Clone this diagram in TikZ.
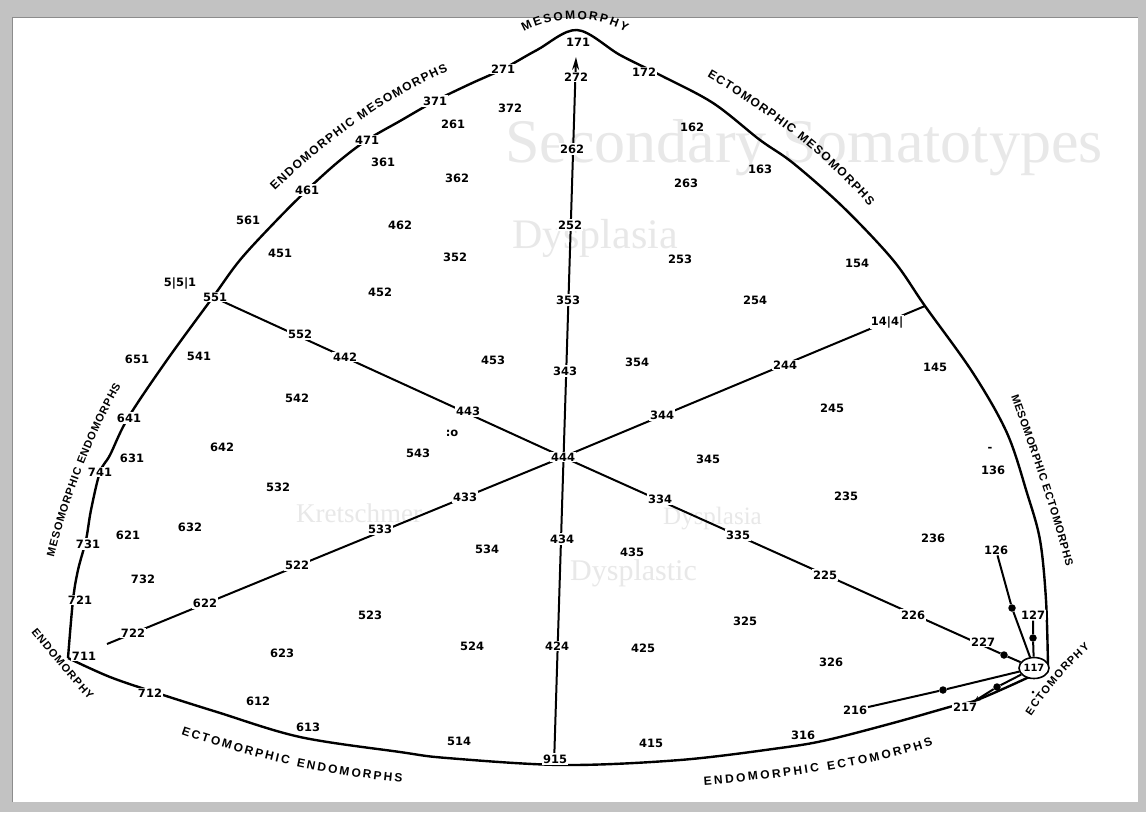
\documentclass[tikz,border=0pt]{standalone}
\usepackage{fontspec}
\setmainfont{DejaVu Sans}
\newfontfamily\numfont{DejaVu Sans}
\newfontfamily\capsfont{Liberation Sans}
\newfontfamily\bgserif{Liberation Serif}
\usetikzlibrary{decorations.text,arrows.meta,shapes.geometric}
\pgfdeclarelayer{back}
\pgfdeclarelayer{lines}
\pgfsetlayers{back,lines,main}
\newcommand\capfnt{\capsfont\bfseries\fontsize{12}{12}\selectfont}
\newcommand\capfntb{\capsfont\bfseries\fontsize{11}{11}\selectfont}
\tikzset{
  lab/.style={font=\numfont\bfseries\fontsize{11.5}{12}\selectfont, inner sep=0.8pt},
  onl/.style={lab, fill=white, inner sep=1.2pt},
  outline/.style={line width=2.4pt, line join=round},
  spoke/.style={line width=2pt},
  dotn/.style={circle, fill=black, inner sep=0pt, minimum size=7.5pt},
  bgt/.style={text=black!9, inner sep=0pt},
  curvlab/.style={decorate, decoration={text along path, text={|\capfnt|#1}, text align={fit to path}}},
  curvlabs/.style={decorate, decoration={text along path, text={|\capfntb|#1}, text align={fit to path}}}
}
\begin{document}
\begin{tikzpicture}[x=1pt,y=-1pt]
\useasboundingbox (0,0) rectangle (1146,812);
\begin{pgfonlayer}{back}
\fill[black!24] (0,0) rectangle (1146,812);
\fill[white] (12,17) rectangle (1138,802);
\draw[black!45, line width=1pt] (12,802) -- (12,17) -- (1138,17);
\node[bgt, font=\bgserif\fontsize{62}{62}\selectfont, anchor=base west] (bgA) at (505,162) {Secondary Somatotypes};
\node[bgt, font=\bgserif\fontsize{42}{42}\selectfont, anchor=base west] (bgB) at (512,248) {Dysplasia};
\node[bgt, font=\bgserif\fontsize{27}{27}\selectfont, anchor=base west] (bgC) at (296,522) {Kretschmer};
\node[bgt, font=\bgserif\fontsize{25}{25}\selectfont, anchor=base west] (bgD) at (663,524) {Dysplasia};
\node[bgt, font=\bgserif\fontsize{30}{30}\selectfont, anchor=base west] (bgE) at (570,580) {Dysplastic};
\end{pgfonlayer}

% outline of the chart
\begin{pgfonlayer}{lines}
\draw[outline] plot[smooth, tension=0.55] coordinates {(68,658) (73,600) (78,570) (86,540) (91,510) (100,472) (110,455) (128,418) (167,360) (213,297) (240,260) (275,222) (307,190) (338,162) (367,140) (400,121) (435,101) (470,84) (503,69) (537,50) (577,30) (620,55) (660,75) (713,103) (760,140) (793,163) (843,207) (893,260) (925,306) (973,373) (1007,433) (1027,493) (1040,540) (1046,600) (1048,667)};
\draw[outline] plot[smooth, tension=0.55] coordinates {(68,658) (110,677) (157,693) (217,712) (300,737) (400,752) (447,758) (563,765) (680,760) (780,748) (827,740) (893,723) (953,706) (977,700) (1027,678) (1048,667)};
\end{pgfonlayer}

% spoke ends
\coordinate (c444) at (563,457);
\coordinate (p551) at (213,297);
\coordinate (p144) at (925,306);
\coordinate (p722) at (107,644);
\coordinate (vb) at (554,765);
\coordinate (vt) at (576,57);

% dots and circled vertex
\node[dotn] (d126) at (1012,608) {};
\node[dotn] (d127) at (1033,638) {};
\node[dotn] (d227) at (1004,655) {};
\node[dotn] (d216) at (943,690) {};
\node[dotn] (d217) at (997,687) {};
\node[circle, fill=black, inner sep=0pt, minimum size=3pt] (decto) at (1033,692) {};
\node[ellipse, draw, line width=1.6pt, fill=white, inner sep=0pt, minimum width=30pt, minimum height=21pt, font=\numfont\bfseries\fontsize{10}{10}\selectfont] (e117) at (1034,668) {117};

% labels
\node[lab] (n171) at (578,42) {171};
\node[onl] (n271) at (503,69) {271};
\node[onl] (n272) at (576,77) {272};
\node[onl] (n172) at (644,72) {172};
\node[onl] (n371) at (435,101) {371};
\node[lab] (n372) at (510,108) {372};
\node[lab] (n261) at (453,124) {261};
\node[onl] (n262) at (572,149) {262};
\node[lab] (n162) at (692,127) {162};
\node[lab] (n163) at (760,169) {163};
\node[onl] (n471) at (367,140) {471};
\node[lab] (n361) at (383,162) {361};
\node[lab] (n362) at (457,178) {362};
\node[lab] (n263) at (686,183) {263};
\node[onl] (n461) at (307,190) {461};
\node[lab] (n561) at (248,220) {561};
\node[lab] (n462) at (400,225) {462};
\node[onl] (n252) at (570,225) {252};
\node[lab] (n451) at (280,253) {451};
\node[lab] (n352) at (455,257) {352};
\node[lab] (n253) at (680,259) {253};
\node[lab] (n154) at (857,263) {154};
\node[lab] (n5) at (180,283) {5|5|1};
\node[lab] (n452) at (380,292) {452};
\node[onl] (n551) at (215,297) {551};
\node[onl] (n353) at (568,300) {353};
\node[lab] (n254) at (755,300) {254};
\node[onl] (n144) at (887,322) {14|4|};
\node[onl] (n552) at (300,334) {552};
\node[onl] (n442) at (345,357) {442};
\node[lab] (n541) at (199,356) {541};
\node[lab] (n651) at (137,359) {651};
\node[lab] (n453) at (493,360) {453};
\node[lab] (n354) at (637,362) {354};
\node[onl] (n343) at (565,371) {343};
\node[onl] (n244) at (785,365) {244};
\node[lab] (n145) at (935,367) {145};
\node[lab] (n542) at (297,398) {542};
\node[lab] (n245) at (832,408) {245};
\node[onl] (n443) at (468,411) {443};
\node[onl] (n344) at (662,415) {344};
\node[onl] (n641) at (129,418) {641};
\node[lab] (nco) at (452,433) {:o};
\node[lab] (n642) at (222,447) {642};
\node[lab] (n543) at (418,453) {543};
\node[onl] (n444) at (563,457) {444};
\node[lab] (n345) at (708,459) {345};
\node[lab] (n631) at (132,458) {631};
\node[lab] (ndash) at (990,449) {-};
\node[lab] (n136) at (993,470) {136};
\node[onl] (n741) at (100,472) {741};
\node[lab] (n532) at (278,487) {532};
\node[lab] (n235) at (846,496) {235};
\node[onl] (n433) at (465,497) {433};
\node[onl] (n334) at (660,499) {334};
\node[lab] (n632) at (190,527) {632};
\node[onl] (n533) at (380,529) {533};
\node[lab] (n621) at (128,535) {621};
\node[onl] (n335) at (738,535) {335};
\node[lab] (n236) at (933,538) {236};
\node[onl] (n434) at (562,539) {434};
\node[onl] (n731) at (88,544) {731};
\node[lab] (n534) at (487,549) {534};
\node[lab] (n435) at (632,552) {435};
\node[lab] (n126) at (996,550) {126};
\node[onl] (n522) at (297,565) {522};
\node[onl] (n225) at (825,575) {225};
\node[lab] (n732) at (143,579) {732};
\node[onl] (n721) at (80,600) {721};
\node[onl] (n622) at (205,603) {622};
\node[onl] (n127) at (1033,615) {127};
\node[onl] (n226) at (913,615) {226};
\node[lab] (n523) at (370,615) {523};
\node[lab] (n325) at (745,621) {325};
\node[onl] (n722) at (133,633) {722};
\node[onl] (n227) at (983,642) {227};
\node[lab] (n524) at (472,646) {524};
\node[onl] (n424) at (557,646) {424};
\node[lab] (n425) at (643,648) {425};
\node[lab] (n623) at (282,653) {623};
\node[onl] (n711) at (84,656) {711};
\node[lab] (n326) at (831,662) {326};
\node[onl] (n712) at (150,693) {712};
\node[lab] (n612) at (258,701) {612};
\node[lab] (n216) at (855,710) {216};
\node[onl] (n217) at (965,707) {217};
\node[lab] (n613) at (308,727) {613};
\node[lab] (n316) at (803,735) {316};
\node[lab] (n514) at (459,741) {514};
\node[lab] (n415) at (651,743) {415};
\node[onl] (n915) at (555,759) {915};

% connectors
\begin{pgfonlayer}{lines}
\draw[spoke, -{Stealth[length=13pt,width=7pt]}] (vb) -- (vt);
\draw[spoke] (p551) -- (c444) -- (p144);
\draw[spoke] (c444) -- (p722);
\draw[spoke] (c444) -- (d227);
\draw[spoke] (d227) -- (e117);
\draw[spoke] (n126) -- (d126) -- (e117);
\draw[spoke] (n127) -- (d127) -- (e117);
\draw[spoke] (n216) -- (d216) -- (e117);
\draw[spoke, -{Stealth[length=6pt,width=5pt]}] (e117) -- (d217) -- (n217);
\end{pgfonlayer}

% curved captions
\path[curvlab=MESOMORPHY] (524,32) .. controls (554,15) and (596,15) .. (626,32);
\path[curvlab={ENDOMORPHIC MESOMORPHS}] (275,191) .. controls (322,145) and (382,100) .. (448,71);
\path[curvlab={ECTOMORPHIC MESOMORPHS}] (707,77) .. controls (760,108) and (820,150) .. (869,206);
\path[curvlabs={MESOMORPHIC ECTOMORPHS}] (1011,396) .. controls (1030,450) and (1052,510) .. (1066,567);
\path[curvlabs=ECTOMORPHY] (1031,716) .. controls (1046,694) and (1066,668) .. (1090,648);
\path[curvlab={ENDOMORPHIC ECTOMORPHS}] (704,785) .. controls (780,779) and (880,765) .. (933,745);
\path[curvlab={ECTOMORPHIC ENDOMORPHS}] (181,734) .. controls (250,758) and (330,776) .. (402,782);
\path[curvlabs=ENDOMORPHY] (31,632) .. controls (50,655) and (68,678) .. (89,700);
\path[curvlabs={MESOMORPHIC ENDOMORPHS}] (54,557) .. controls (67,505) and (90,440) .. (121,386);
\end{tikzpicture}
\end{document}
